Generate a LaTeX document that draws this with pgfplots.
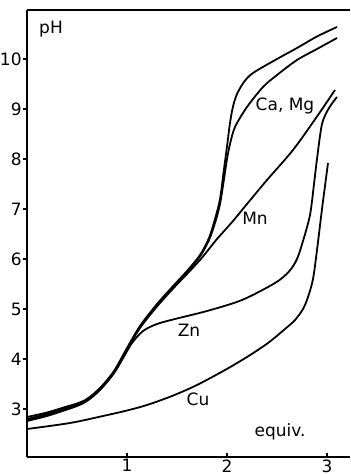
\documentclass[border=0pt]{standalone}
\usepackage{fontspec}
\setmainfont{DejaVu Sans}
\usepackage{pgfplots}
\pgfplotsset{compat=1.18}
\begin{document}
\fontsize{8.5}{10}\selectfont
\begin{tikzpicture}[font=\fontsize{8.5}{10}\selectfont]
\begin{axis}[
 name=ax,
 scale only axis, width=161.5pt, height=223.5pt,
 xmin=0, xmax=3.23, ymin=2.04, ymax=10.98,
 axis x line*=bottom, axis y line*=left,
 axis line style={line width=1pt, -},
 xtick={1,2,3}, ytick={3,4,5,6,7,8,9,10},
 xtick align=inside, ytick align=outside,
 major tick length=2pt,
 tick style={line width=0.8pt, black},
 /pgf/number format/assume math mode=true,
 ticklabel style={font=\fontsize{8.5}{10}\selectfont},
 yticklabel style={inner sep=0.5pt},
 xticklabel style={inner sep=1pt},
 cycle list={{black}},
 every axis plot/.append style={line width=0.9pt, black, no markers, smooth},
 clip=false,
]
% Ca
\addplot[black] coordinates {(0,2.84)(0.2,2.93)(0.4,3.05)(0.5,3.11)(0.6,3.20)(0.73,3.42)(0.87,3.76)(1.0,4.22)(1.13,4.66)(1.3,5.1)(1.48,5.5)(1.6,5.76)(1.73,6.08)(1.82,6.42)(1.88,6.8)(1.93,7.2)(1.97,7.8)(2.0,8.25)(2.03,8.72)(2.06,9.05)(2.1,9.3)(2.17,9.54)(2.26,9.72)(2.5,10.0)(2.7,10.22)(2.9,10.45)(3.1,10.64)};
% Mg
\addplot[black] coordinates {(0,2.80)(0.2,2.90)(0.4,3.02)(0.5,3.08)(0.6,3.18)(0.73,3.40)(0.87,3.74)(1.0,4.20)(1.13,4.64)(1.3,5.08)(1.48,5.48)(1.6,5.74)(1.73,6.05)(1.82,6.38)(1.88,6.72)(1.93,7.1)(1.97,7.6)(2.0,8.0)(2.03,8.3)(2.08,8.64)(2.2,9.04)(2.36,9.44)(2.5,9.68)(2.7,9.98)(2.9,10.2)(3.1,10.42)};
% Mn
\addplot[black] coordinates {(0,2.78)(0.2,2.88)(0.4,3.01)(0.5,3.07)(0.6,3.17)(0.73,3.39)(0.87,3.72)(1.0,4.18)(1.13,4.62)(1.3,5.05)(1.48,5.45)(1.6,5.7)(1.73,5.98)(1.82,6.2)(1.9,6.4)(2.06,6.76)(2.2,7.1)(2.4,7.58)(2.66,8.18)(2.9,8.85)(3.08,9.38)};
% Zn
\addplot[black] coordinates {(0,2.76)(0.2,2.86)(0.4,2.99)(0.5,3.06)(0.6,3.16)(0.73,3.38)(0.87,3.72)(0.97,4.05)(1.05,4.32)(1.16,4.56)(1.3,4.7)(1.48,4.8)(1.8,4.96)(2.15,5.18)(2.48,5.52)(2.62,5.75)(2.7,6.0)(2.76,6.36)(2.83,6.88)(2.87,7.5)(2.9,8.0)(2.95,8.7)(3.02,9.02)(3.1,9.24)};
% Cu
\addplot[black] coordinates {(0,2.6)(0.43,2.72)(0.76,2.86)(1.0,2.97)(1.2,3.08)(1.45,3.26)(1.7,3.48)(1.98,3.78)(2.2,4.04)(2.41,4.32)(2.58,4.6)(2.68,4.78)(2.76,5.0)(2.81,5.24)(2.86,5.6)(2.9,6.18)(2.95,7.0)(3.01,7.92)};
\draw[line width=1pt] (rel axis cs:0,1) -- (rel axis cs:1,1);
\node at (axis cs:0.24,10.6) {pH};
\node at (axis cs:2.58,9.06) {Ca, Mg};
\node at (axis cs:2.28,6.82) {Mn};
\node at (axis cs:1.62,4.58) {Zn};
\node at (axis cs:1.71,3.19) {Cu};
\node at (axis cs:2.53,2.54) {equiv.};
\end{axis}
\pgfresetboundingbox
\path ([shift={(-13.5pt,-8.5pt)}]ax.south west) rectangle ([shift={(0pt,5pt)}]ax.north east);
\end{tikzpicture}
\end{document}
